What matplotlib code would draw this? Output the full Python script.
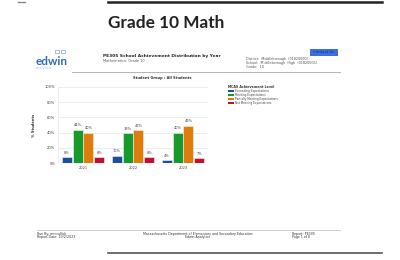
import numpy as np
import matplotlib
matplotlib.use('Agg')
import matplotlib.pyplot as plt
from matplotlib.patches import Rectangle

years = ['2021', '2022', '2023']
levels = ['Exceeding Expectations', 'Meeting Expectations',
          'Partially Meeting Expectations', 'Not Meeting Expectations']
exceeding = [8, 10, 4]
meeting = [44, 39, 40]
partially = [40, 43, 49]
not_meeting = [8, 8, 7]
colors = ['#1b4f9c', '#169a2b', '#de7c0c', '#c2102c']

W, H = 400, 260


def px(x, y):
	# pixel coords (top-left origin) -> figure fraction
	return x / W, 1 - y / H


def main():
	fig = plt.figure(figsize=(4, 2.6), dpi=100)
	fig.patch.set_facecolor('white')

	# page decorations
	fig.add_artist(plt.Line2D([18 / W, 25 / W], [1 - 1.5 / H] * 2, color='#888888', lw=1))
	fig.add_artist(plt.Line2D([108 / W, 382 / W], [1 - 1.5 / H] * 2, color='#222222', lw=1.8))
	fig.add_artist(plt.Line2D([108 / W, 382 / W], [1 - 253 / H] * 2, color='#555555', lw=1.2))
	fig.text(*px(108, 23.5), 'Grade 10 Math', fontsize=12.4, fontweight='bold',
			family='Lato', va='center', ha='left', color='#222222')

	# report header
	fig.text(*px(36, 61.5), 'edwin', fontsize=8.5, fontweight='bold', color='#2f6db5',
			family='Lato', va='center')
	fig.text(*px(36, 67.5), 'analytics', fontsize=2.5, color='#a9c2e0', va='center')
	fig.add_artist(Rectangle(px(55, 53), 4 / W, 3 / H, fill=False, ec='#7fa3d0', lw=0.5))
	fig.add_artist(Rectangle(px(61, 53), 4 / W, 3 / H, fill=False, ec='#7fa3d0', lw=0.5))
	fig.text(*px(103, 56), 'PE305 School Achievement Distribution by Year', fontsize=3.2,
			fontweight='bold', va='center', color='#222222')
	fig.text(*px(103, 60.5), 'Mathematics: Grade 10', fontsize=2.5, va='center', color='#555555')
	fig.text(*px(246, 59), 'District:  Middleborough  (01820000)', fontsize=2.4, va='center', color='#555555')
	fig.text(*px(246, 63), 'School:  Middleborough  High  (01820505)', fontsize=2.4, va='center', color='#555555')
	fig.text(*px(246, 67), 'Grade:  10', fontsize=2.4, va='center', color='#555555')
	fig.add_artist(Rectangle(px(310, 55.5), 28 / W, 6.5 / H, color='#3a6fe0', ec='none'))
	fig.text(*px(324, 52.3), 'Contact Us', fontsize=2.8, va='center', ha='center', color='#1a2f80')
	fig.add_artist(plt.Line2D([72 / W, 340 / W], [1 - 71.5 / H] * 2, color='#aaaaaa', lw=0.6))
	fig.text(*px(162, 78), 'Student Group : All Students', fontsize=2.6, fontweight='bold',
			ha='center', va='center', color='#333333')

	# chart
	l, b = px(58, 163.3)
	ax = fig.add_axes([l, b, 150 / W, 76.6 / H])
	series = [exceeding, meeting, partially, not_meeting]
	x = np.arange(len(years))
	step = 0.215
	width = 0.2
	for i, (vals, c) in enumerate(zip(series, colors)):
		pos = x + (i - 1.5) * step
		ax.bar(pos, vals, width, color=c, edgecolor='#f2f2f2', linewidth=0.4,
			label=levels[i], zorder=3)
		for p, v in zip(pos, vals):
			ax.text(p, v + 3, f'{v}%', ha='center', va='bottom', fontsize=2.5, color='#444444')
	ax.set_xlim(-0.5, 2.5)
	ax.set_ylim(0, 100)
	ax.set_yticks(range(0, 101, 20))
	ax.set_yticklabels([f'{v}%' for v in range(0, 101, 20)])
	ax.set_xticks(x)
	ax.set_xticklabels(years)
	ax.tick_params(labelsize=2.6, length=0, pad=2, colors='#444444')
	ax.grid(axis='y', color='#e6e6e6', lw=0.5, zorder=0)
	for s in ax.spines.values():
		s.set_visible(False)
	ax.axvline(-0.5, color='#e6e6e6', lw=0.5)
	ax.set_ylabel('% Students', fontsize=2.6, fontweight='bold', labelpad=6, color='#333333')

	# legend
	fig.text(*px(228, 87), 'MCAS Achievement Level', fontsize=2.3, fontweight='bold',
			va='center', color='#333333')
	for i, (lab, c) in enumerate(zip(levels, colors)):
		yy = 91.3 + i * 4
		fig.add_artist(Rectangle(px(228, yy + 0.9), 5.5 / W, 1.8 / H, color=c, ec='none'))
		fig.text(*px(235, yy), lab, fontsize=2.1, va='center', color='#444444')

	# footer
	fig.add_artist(plt.Line2D([37 / W, 340 / W], [1 - 229.5 / H] * 2, color='#bbbbbb', lw=0.5))
	fig.text(*px(37, 233.5), 'Run By: rmccullick', fontsize=2.3, va='center', color='#333333')
	fig.text(*px(37, 237), 'Report Date: 10/2/2023', fontsize=2.3, va='center', color='#333333')
	fig.text(*px(198, 233.5), 'Massachusetts Department of Elementary and Secondary Education',
			fontsize=2.3, va='center', ha='center', color='#333333')
	fig.text(*px(198, 237), 'Edwin Analytics', fontsize=2.3, va='center', ha='center', color='#333333')
	fig.text(*px(292, 233.5), 'Report: PE305', fontsize=2.3, va='center', color='#333333')
	fig.text(*px(292, 237), 'Page 1 of 8', fontsize=2.3, va='center', color='#333333')

	fig.savefig('out.png', dpi=100)


if __name__ == '__main__':
	main()
